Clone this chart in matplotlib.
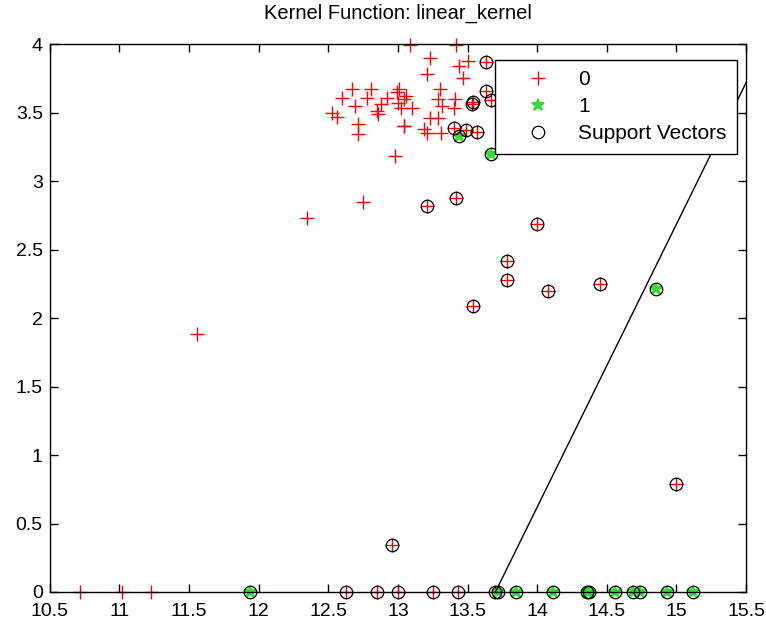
import numpy as np
import matplotlib
matplotlib.use("Agg")
import matplotlib.pyplot as plt

plt.rcParams['font.family'] = ['Liberation Sans', 'DejaVu Sans']

# class 0 points that are not support vectors
x0 = [10.72, 11.02, 11.23, 11.56, 12.35, 12.75, 12.98, 12.71, 12.53, 12.56,
      12.60, 12.67, 12.69, 12.71, 12.78, 12.81, 12.85, 12.86, 12.92, 12.88,
      13.00, 12.99, 13.02, 13.04, 13.06, 13.01, 13.04, 13.09, 13.23, 13.21,
      13.42, 13.50, 13.44, 13.47, 13.30, 13.29, 13.32, 13.41, 13.40, 13.23,
      13.29, 13.19, 13.21, 13.31, 13.04, 13.10]
y0 = [0, 0, 0, 1.88, 2.73, 2.85, 3.18, 3.34, 3.50, 3.47,
      3.61, 3.67, 3.55, 3.42, 3.61, 3.67, 3.51, 3.49, 3.61, 3.56,
      3.57, 3.65, 3.53, 3.60, 3.62, 3.67, 3.40, 3.99, 3.90, 3.78,
      3.99, 3.88, 3.84, 3.75, 3.67, 3.60, 3.55, 3.60, 3.53, 3.46,
      3.46, 3.38, 3.35, 3.35, 3.40, 3.53]

# class 0 support vectors
x0_sv = [13.63, 13.63, 13.67, 13.54, 13.53, 13.40, 13.49, 13.57, 13.21, 13.42,
         14.00, 13.78, 13.78, 14.08, 14.45, 13.54, 15.00, 12.96, 12.63, 12.85,
         13.00, 13.25, 13.43, 13.70]
y0_sv = [3.87, 3.66, 3.59, 3.58, 3.56, 3.39, 3.37, 3.36, 2.82, 2.88,
         2.69, 2.42, 2.28, 2.20, 2.25, 2.09, 0.79, 0.34, 0, 0,
         0, 0, 0, 0]

# class 1 points (all support vectors)
x1 = [13.44, 13.67, 14.85, 11.94, 13.72, 13.85, 14.11, 14.36, 14.37, 14.56,
      14.69, 14.74, 14.93, 15.12]
y1 = [3.33, 3.20, 2.21, 0, 0, 0, 0, 0, 0, 0,
      0, 0, 0, 0]

# separating line end points
line_x = [13.70, 15.52]
line_y = [0.0, 3.76]

fig = plt.figure(figsize=(7.66, 6.21), dpi=100)
ax = fig.add_axes([0.065, 0.0467, 0.909, 0.8823])

ax.plot(x0 + x0_sv, y0 + y0_sv, '+', color='red', markersize=10,
        markeredgewidth=1.0, linestyle='none', label='0', clip_on=False)
ax.plot(x1, y1, '*', color='#33dd33', markersize=9, markeredgewidth=1.5,
        linestyle='none', label='1', clip_on=False)
ax.plot(x0_sv + x1, y0_sv + y1, 'o', markerfacecolor='none',
        markeredgecolor='black', markersize=9, markeredgewidth=0.9,
        linestyle='none', label='Support Vectors', clip_on=False)
ax.plot(line_x, line_y, '-', color='black', linewidth=1.0)

ax.set_xlim(10.5, 15.5)
ax.set_ylim(0, 4)
ax.set_xticks(np.arange(10.5, 15.51, 0.5))
ax.set_yticks(np.arange(0, 4.01, 0.5))
ax.set_xticklabels(['10.5', '11', '11.5', '12', '12.5', '13', '13.5', '14',
                    '14.5', '15', '15.5'])
ax.set_yticklabels(['0', '0.5', '1', '1.5', '2', '2.5', '3', '3.5', '4'])
ax.tick_params(direction='in', top=True, right=True, length=6, width=1,
               labelsize=14)
ax.tick_params(axis='x', pad=8)
ax.tick_params(axis='y', pad=5)
for s in ax.spines.values():
    s.set_linewidth(1.0)

ax.set_title('Kernel Function: linear_kernel', fontsize=14.5, pad=18)

leg = ax.legend(loc='upper right', bbox_to_anchor=(0.987, 0.971),
                borderaxespad=0, fancybox=False, edgecolor='black',
                framealpha=1, fontsize=15, handlelength=3.17,
                handletextpad=0.34, borderpad=0.5, labelspacing=0.38)
leg.get_frame().set_linewidth(1.0)

fig.savefig('out.png', dpi=100)
